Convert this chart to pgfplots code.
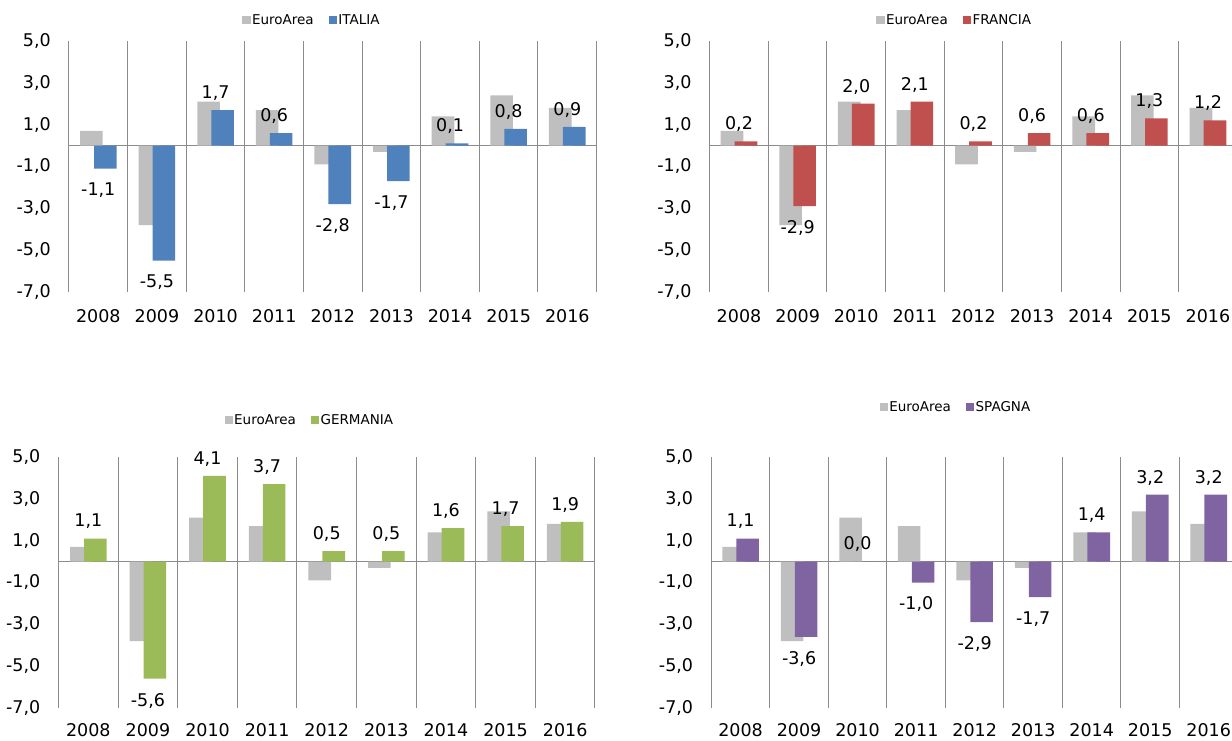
\documentclass[border=0pt]{standalone}
\usepackage{pgfplots}
\usepackage{pgfplotstable}
\pgfplotsset{compat=1.18}
\usepackage{fontspec}
\setmainfont{DejaVu Sans}
\definecolor{eagray}{RGB}{191,191,191}
\definecolor{itblue}{RGB}{79,129,189}
\definecolor{frred}{RGB}{192,80,77}
\definecolor{degreen}{RGB}{155,187,89}
\definecolor{espurple}{RGB}{128,100,162}
\definecolor{gridgray}{RGB}{140,140,140}

\pgfplotstableread{
x  ea    it    fr    de    es
0  0.7  -1.1   0.2   1.1   1.1
1 -3.8  -5.5  -2.9  -5.6  -3.6
2  2.1   1.7   2.0   4.1   0.0
3  1.7   0.6   2.1   3.7  -1.0
4 -0.9  -2.8   0.2   0.5  -2.9
5 -0.3  -1.7   0.6   0.5  -1.7
6  1.4   0.1   0.6   1.6   1.4
7  2.4   0.8   1.3   1.7   3.2
8  1.8   0.9   1.2   1.9   3.2
}\gdpdata

\pgfplotsset{
  panel/.style={
    scale only axis, height=251pt,
    xmin=-0.5, xmax=8.5, ymin=-7, ymax=5,
    clip=false,
    axis line style={draw=none},
    major tick length=0pt, minor tick length=0pt,
    xtick={0,...,8},
    xticklabels={2008,2009,2010,2011,2012,2013,2014,2015,2016},
    ytick={-7,-5,-3,-1,1,3,5},
    yticklabels={{-7,0},{-5,0},{-3,0},{-1,0},{1,0},{3,0},{5,0}},
    minor xtick={-0.5,0.5,...,8.5},
    xminorgrids=true,
    minor grid style={draw=gridgray, line width=1pt},
    extra y ticks={0}, extra y tick labels={},
    extra y tick style={ymajorgrids=true, major grid style={draw=gridgray, line width=1pt}},
    tick label style={font=\fontsize{17.5}{21}\selectfont},
    yticklabel style={inner xsep=0pt, xshift=-18pt},
    xticklabel style={inner ysep=0pt, text depth=0pt, yshift=-17.6pt},
    legend columns=2,
    legend style={draw=none, fill=none, anchor=center,
      font=\fontsize{13.5}{16}\selectfont,
      nodes={inner xsep=1.5pt, inner ysep=0pt},
      /tikz/every even column/.append style={column sep=13.5pt}},
    legend image code/.code={\fill[##1] (0pt,-4.3pt) rectangle (8.2pt,4.3pt);},
  },
  ea/.style={ybar, fill=eagray, draw=none, bar width=22.6pt, bar shift=-7pt},
  ctry/.style={ybar, fill=#1, draw=none, bar width=22.6pt, bar shift=7pt,
    nodes near coords={\pgfmathprintnumber[fixed,fixed zerofill,precision=1,use comma,assume math mode=true]{\pgfplotspointmeta}},
    visualization depends on=rawy \as \rawy,
    every node near coord/.append style={font=\fontsize{17.5}{21}\selectfont,
      text=black, text depth=0pt, inner xsep=0pt, inner ysep=11.4pt,
      yshift={(\rawy<0)*(-2.7pt)}}},
}

\begin{document}
\begin{tikzpicture}
\begin{axis}[panel, at={(69pt,448pt)}, anchor=south west, width=527.6pt,
  legend style={at={(0.46,1.0837)}}]
\addplot[ea] table[x=x,y=ea]{\gdpdata};
\addplot[ctry=itblue] table[x=x,y=it]{\gdpdata};
\legend{EuroArea,ITALIA}
\end{axis}

\begin{axis}[panel, at={(709.7pt,448pt)}, anchor=south west, width=527.6pt,
  legend style={at={(0.464,1.0837)}}]
\addplot[ea] table[x=x,y=ea]{\gdpdata};
\addplot[ctry=frred] table[x=x,y=fr]{\gdpdata};
\legend{EuroArea,FRANCIA}
\end{axis}

\begin{axis}[panel, at={(58.5pt,32pt)}, anchor=south west, width=536.5pt,
  xticklabel style={yshift=1.8pt},
  legend style={at={(0.468,1.147)}}]
\addplot[ea] table[x=x,y=ea]{\gdpdata};
\addplot[ctry=degreen] table[x=x,y=de]{\gdpdata};
\legend{EuroArea,GERMANIA}
\end{axis}

\begin{axis}[panel, at={(711.3pt,32pt)}, anchor=south west, width=526.7pt,
  xticklabel style={yshift=1.8pt},
  legend style={at={(0.464,1.199)}}]
\addplot[ea] table[x=x,y=ea]{\gdpdata};
\addplot[ctry=espurple] table[x=x,y=es]{\gdpdata};
\legend{EuroArea,SPAGNA}
\end{axis}

\pgfresetboundingbox
\path[use as bounding box] (0pt,0pt) rectangle (1232pt,740pt);
\end{tikzpicture}
\end{document}
